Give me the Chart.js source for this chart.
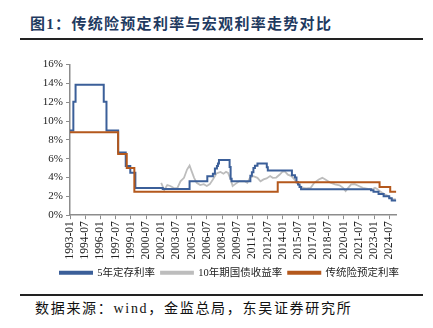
<!DOCTYPE html>
<html>
<head>
    <meta charset="utf-8">
    <title>传统险预定利率与宏观利率走势对比</title>
    <script src="https://cdn.jsdelivr.net/npm/chart.js"></script>
    <style>
        body { margin: 0; background: #fff; width: 433px; height: 328px; overflow: hidden; position: relative; }
        #title { position: absolute; left: 30px; top: 12px; font: bold 15px "Liberation Serif", "Noto Sans CJK SC", serif; letter-spacing: 1.3px; color: #1f3a60; white-space: nowrap; }
        .rule { position: absolute; left: 20px; width: 403px; background: #222; }
        #source { position: absolute; left: 35px; top: 297px; font: 14px "Liberation Serif", "Noto Sans CJK SC", serif; letter-spacing: 1.7px; color: #111; white-space: nowrap; }
        #box { position: absolute; left: 20px; top: 55px; width: 385px; height: 233px; }
    </style>
</head>
<body>
    <div id="title">图1：传统险预定利率与宏观利率走势对比</div>
    <div class="rule" style="top: 38px; height: 2px;"></div>
    <div id="box"><canvas id="rateChart"></canvas></div>
    <div class="rule" style="top: 294px; height: 1.5px;"></div>
    <div id="source">数据来源：wind，金监总局，东吴证券研究所</div>

    <script>
        // x axis tick labels (every 18 months)
        const tickLabels = ['1993-01', '1994-07', '1996-01', '1997-07', '1999-01', '2000-07', '2002-01', '2003-07',
            '2005-01', '2006-07', '2008-01', '2009-07', '2011-01', '2012-07', '2014-01', '2015-07',
            '2017-01', '2018-07', '2020-01', '2021-07', '2023-01', '2024-07'];

        // 5年定存利率: date of each change (decimal year) and the new rate
        const depositDates = [1993.0, 1993.33, 1993.55, 1996.33, 1996.6, 1997.75, 1998.5, 1998.95, 1999.45, 2002.15,
            2004.8, 2006.55, 2007.1, 2007.3, 2007.5, 2007.6, 2007.7, 2008.75, 2008.85, 2008.95,
            2010.8, 2010.95, 2011.1, 2011.25, 2011.5, 2012.42, 2012.52, 2014.9, 2015.2, 2015.35,
            2015.5, 2015.65, 2015.8, 2022.7, 2022.95, 2023.45, 2023.95, 2024.5, 2024.75, 2025.2];
        const depositRate = [9.0, 12.06, 13.86, 12.06, 9.0, 6.66, 5.22, 4.5, 2.88, 2.79,
            3.6, 4.14, 4.41, 4.95, 5.22, 5.49, 5.85, 5.13, 3.87, 3.6,
            4.2, 4.55, 5.0, 5.25, 5.5, 5.1, 4.75, 4.25, 4.0, 3.5,
            3.25, 3.0, 2.75, 2.65, 2.5, 2.25, 2.0, 1.8, 1.55, 1.55];

        // 10年期国债收益率
        const bondDates = [2002.0, 2002.3, 2002.6, 2002.9, 2003.3, 2003.6, 2003.9, 2004.25, 2004.55, 2004.8,
            2005.0, 2005.25, 2005.5, 2005.85, 2006.2, 2006.5, 2006.8, 2007.1, 2007.45, 2007.85,
            2008.15, 2008.4, 2008.6, 2008.85, 2009.05, 2009.3, 2009.7, 2010.2, 2010.5, 2010.75,
            2011.1, 2011.5, 2011.8, 2012.1, 2012.4, 2012.75, 2013.0, 2013.35, 2013.7, 2013.95,
            2014.2, 2014.5, 2014.85, 2015.15, 2015.4, 2015.7, 2016.0, 2016.3, 2016.75, 2017.1,
            2017.55, 2017.9, 2018.2, 2018.7, 2019.15, 2019.6, 2019.95, 2020.2, 2020.45, 2020.75,
            2021.1, 2021.5, 2021.9, 2022.4, 2022.8, 2023.1, 2023.35, 2023.55, 2023.8, 2024.1,
            2024.4, 2024.65, 2024.85, 2025.15];
        const bondYield = [3.44, 2.67, 3.2, 3.1, 2.85, 2.9, 3.6, 3.97, 4.85, 5.28,
            4.68, 3.97, 3.44, 3.2, 3.3, 3.1, 3.3, 3.8, 4.43, 4.6,
            4.4, 4.6, 4.5, 3.8, 3.1, 3.3, 3.6, 3.6, 3.44, 3.97,
            4.15, 3.97, 3.6, 3.8, 3.9, 4.15, 3.97, 4.0, 4.32, 4.6,
            4.65, 4.3, 4.15, 3.8, 3.44, 3.1, 2.9, 2.85, 2.9, 3.44,
            3.8, 3.97, 3.8, 3.44, 3.27, 3.17, 2.9, 2.56, 2.9, 3.27,
            3.3, 3.1, 2.9, 2.8, 2.75, 2.9, 2.75, 2.56, 2.38, 2.2,
            2.03, 1.8, 1.68, 1.7];

        // 传统险预定利率
        const insuranceDates = [1993.0, 1997.75, 1998.6, 1999.35, 2013.5, 2023.55, 2024.6, 2025.2];
        const insuranceRate = [8.8, 6.5, 5.0, 2.5, 3.5, 3.0, 2.5, 2.5];

        const tickPos = tickLabels.map(s => Number(s.slice(0, 4)) + (Number(s.slice(5)) - 1) / 12);
        const toPoints = (xs, ys) => xs.map((x, i) => ({ x: x, y: ys[i] }));

        const serif = '"Liberation Serif", "Noto Sans CJK SC", serif';
        const axisColor = '#8c8c8c';

        const ctx = document.getElementById('rateChart').getContext('2d');
        const rateChart = new Chart(ctx, {
            type: 'line',
            data: {
                datasets: [{
                    label: '5年定存利率',
                    data: toPoints(depositDates, depositRate),
                    borderColor: '#3b5f99',
                    backgroundColor: '#3b5f99',
                    borderWidth: 2,
                    stepped: true,
                    order: 1
                }, {
                    label: '10年期国债收益率',
                    data: toPoints(bondDates, bondYield),
                    borderColor: '#bdbdbd',
                    backgroundColor: '#bdbdbd',
                    borderWidth: 1.8,
                    order: 2
                }, {
                    label: '传统险预定利率',
                    data: toPoints(insuranceDates, insuranceRate),
                    borderColor: '#b4581c',
                    backgroundColor: '#b4581c',
                    borderWidth: 2,
                    stepped: true,
                    order: 0
                }]
            },
            options: {
                responsive: true,
                maintainAspectRatio: false,
                animation: false,
                elements: { point: { radius: 0 }, line: { tension: 0 } },
                layout: { padding: { top: 6, right: 0, left: 2, bottom: 0 } },
                plugins: {
                    tooltip: { enabled: false },
                    legend: {
                        position: 'bottom',
                        align: 'end',
                        labels: {
                            boxWidth: 32,
                            boxHeight: 2,
                            padding: 6,
                            color: '#222',
                            font: { family: serif, size: 10.5 },
                            sort: (a, b) => a.datasetIndex - b.datasetIndex
                        }
                    }
                },
                scales: {
                    x: {
                        type: 'linear',
                        min: 1993,
                        max: 2025.2,
                        afterBuildTicks: axis => { axis.ticks = tickPos.map(v => ({ value: v })); },
                        ticks: {
                            autoSkip: false,
                            minRotation: 90,
                            maxRotation: 90,
                            padding: 2,
                            color: '#222',
                            font: { family: serif, size: 11.5 },
                            callback: (v, i) => tickLabels[i]
                        },
                        grid: { drawOnChartArea: false, tickLength: 4, color: axisColor },
                        border: { color: axisColor, width: 1.5 }
                    },
                    y: {
                        min: 0,
                        max: 16,
                        afterFit: scale => { scale.width = 48; },
                        ticks: {
                            stepSize: 2,
                            padding: 3,
                            color: '#222',
                            font: { family: serif, size: 11 },
                            callback: v => v + '%'
                        },
                        grid: { drawOnChartArea: false, tickLength: 4, color: axisColor },
                        border: { color: axisColor, width: 1.5 }
                    }
                }
            }
        });
    </script>
</body>
</html>
